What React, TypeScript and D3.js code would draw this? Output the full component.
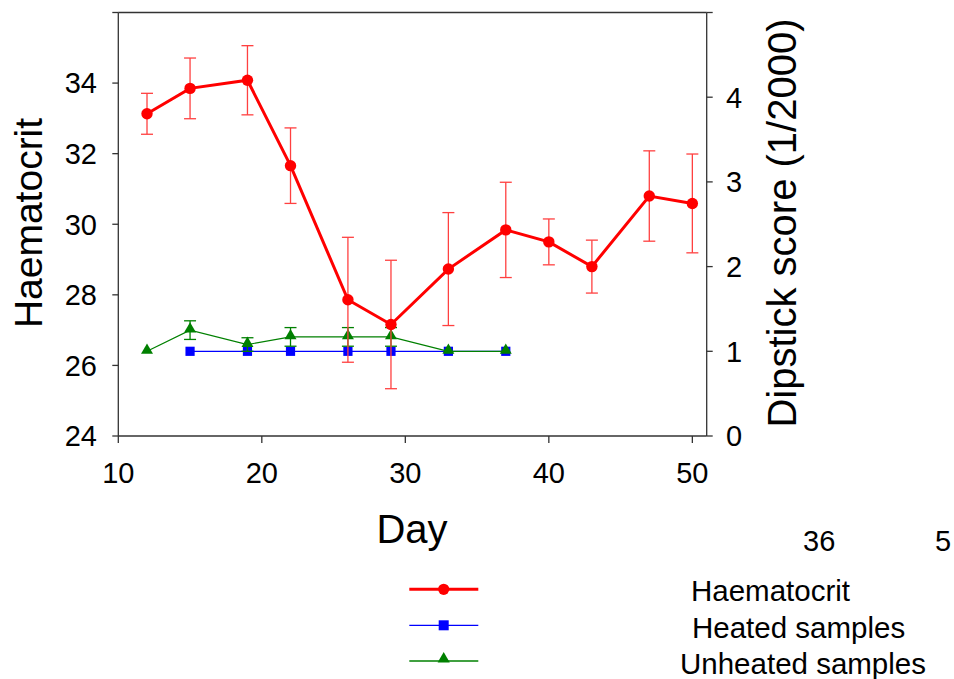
import React from "react";
import * as d3 from "d3";

const days = [12, 15, 19, 22, 26, 29, 33, 37, 40, 43, 47, 50];
const haematocrit = [33.13, 33.85, 34.08, 31.66, 27.86, 27.16, 28.73, 29.84, 29.5, 28.8, 30.8, 30.59];
const haematocritErr = [0.58, 0.86, 0.98, 1.07, 1.77, 1.82, 1.6, 1.35, 0.65, 0.75, 1.28, 1.4];

const heatedDays = [15, 19, 22, 26, 29, 33, 37];
const heated = [1, 1, 1, 1, 1, 1, 1];

const unheatedDays = [12, 15, 19, 22, 26, 29, 33, 37];
const unheated = [1, 1.25, 1.08, 1.17, 1.17, 1.17, 1, 1];
const unheatedErr = [0, 0.11, 0.08, 0.11, 0.11, 0.11, 0, 0];

const xTicks = [10, 20, 30, 40, 50];
const leftTicks = [24, 26, 28, 30, 32, 34];
const rightTicks = [0, 1, 2, 3, 4];
const legendLabels = ["Haematocrit", "Heated samples", "Unheated samples"];
const strayLabels = ["36", "5"];

const FONT = "'Liberation Sans', Arial, Helvetica, sans-serif";

export default function App() {
  const x = d3.scaleLinear().domain([10, 51]).range([118.3, 706.7]);
  const yL = d3.scaleLinear().domain([24, 36]).range([436, 12.5]);
  const yR = d3.scaleLinear().domain([0, 5]).range([436, 12.5]);

  const axisColor = "#333333";

  const redLine = d3
    .line<number>()
    .x((_, i) => x(days[i]))
    .y((d) => yL(d))(haematocrit) as string;
  const blueLine = d3
    .line<number>()
    .x((_, i) => x(heatedDays[i]))
    .y((d) => yR(d))(heated) as string;
  const greenLine = d3
    .line<number>()
    .x((_, i) => x(unheatedDays[i]))
    .y((d) => yR(d))(unheated) as string;

  const tri = d3.symbol().type(d3.symbolTriangle).size(62)() as string;
  const triLeg = d3.symbol().type(d3.symbolTriangle).size(64)() as string;

  const [x0, x1] = x.range();
  const [yb, yt] = yL.range();

  const legendY = [589.3, 625.3, 661];
  const legendTextY = [601, 637.7, 674.3];
  const legendTextX = [691, 692, 680];

  return (
    <div style={{ position: "absolute", left: 0, top: 0 }}>
      <svg width={954} height={679} style={{ display: "block", fontFamily: FONT }}>
        <rect width={954} height={679} fill="#fff" />
        {/* frame */}
        <line x1={x0} x2={x1} y1={yt} y2={yt} stroke={axisColor} strokeWidth={1.3} />
        <line x1={x0} x2={x1} y1={yb} y2={yb} stroke={axisColor} strokeWidth={1.3} />
        <line x1={x0} x2={x0} y1={yt} y2={yb} stroke={axisColor} strokeWidth={1.3} />
        <line x1={x1} x2={x1} y1={yt} y2={yb} stroke={axisColor} strokeWidth={1.3} />

        {/* x ticks */}
        {xTicks.map((t) => (
          <g key={"x" + t}>
            <line x1={x(t)} x2={x(t)} y1={yb} y2={yb + 7} stroke={axisColor} strokeWidth={1.3} />
            <text x={x(t)} y={483.3} textAnchor="middle" fontSize={29} fill="#000">
              {t}
            </text>
          </g>
        ))}
        {/* left ticks */}
        {[...leftTicks, 36].map((t) => (
          <line key={"lt" + t} x1={x0 - 6} x2={x0} y1={yL(t)} y2={yL(t)} stroke={axisColor} strokeWidth={1.3} />
        ))}
        {leftTicks.map((t) => (
          <text key={"l" + t} x={97} y={yL(t) + 10.4} textAnchor="end" fontSize={29} fill="#000">
            {t}
          </text>
        ))}
        {/* right ticks */}
        {[...rightTicks, 5].map((t) => (
          <line key={"rt" + t} x1={x1} x2={x1 + 6} y1={yR(t)} y2={yR(t)} stroke={axisColor} strokeWidth={1.3} />
        ))}
        {rightTicks.map((t) => (
          <text key={"r" + t} x={726} y={yR(t) + 10.4} textAnchor="start" fontSize={29} fill="#000">
            {t}
          </text>
        ))}

        {/* axis titles */}
        <text transform={`translate(42,223) rotate(-90)`} textAnchor="middle" fontSize={39} fill="#000">
          Haematocrit
        </text>
        <text x={412} y={543.3} textAnchor="middle" fontSize={40} fill="#000">
          Day
        </text>
        <text transform={`translate(796,223) rotate(-90)`} textAnchor="middle" fontSize={40} fill="#000">
          Dipstick score (1/2000)
        </text>

        {/* stray labels */}
        <text x={803} y={551} fontSize={29} fill="#000">
          {strayLabels[0]}
        </text>
        <text x={935} y={551} fontSize={29} fill="#000">
          {strayLabels[1]}
        </text>

        {/* heated samples */}
        <path d={blueLine} fill="none" stroke="#0000ff" strokeWidth={1.2} />
        {heated.map((v, i) => (
          <rect key={"b" + i} x={x(heatedDays[i]) - 4.6} y={yR(v) - 4.6} width={9.2} height={9.2} fill="#0000ff" />
        ))}

        {/* unheated samples */}
        <path d={greenLine} fill="none" stroke="#008000" strokeWidth={1.2} />
        {unheated.map((v, i) =>
          unheatedErr[i] > 0 ? (
            <g key={"ge" + i} stroke="#008000" strokeWidth={1.3}>
              <line x1={x(unheatedDays[i])} x2={x(unheatedDays[i])} y1={yR(v + unheatedErr[i])} y2={yR(v - unheatedErr[i])} />
              <line x1={x(unheatedDays[i]) - 6} x2={x(unheatedDays[i]) + 6} y1={yR(v + unheatedErr[i])} y2={yR(v + unheatedErr[i])} />
              <line x1={x(unheatedDays[i]) - 6} x2={x(unheatedDays[i]) + 6} y1={yR(v - unheatedErr[i])} y2={yR(v - unheatedErr[i])} />
            </g>
          ) : null
        )}
        {unheated.map((v, i) => (
          <path key={"g" + i} d={tri} transform={`translate(${x(unheatedDays[i])},${yR(v) - 1})`} fill="#008000" />
        ))}

        {/* haematocrit */}
        {haematocrit.map((v, i) => (
          <g key={"re" + i} stroke="#ff4040" strokeWidth={1.3}>
            <line x1={x(days[i])} x2={x(days[i])} y1={yL(v + haematocritErr[i])} y2={yL(v - haematocritErr[i])} />
            <line x1={x(days[i]) - 6} x2={x(days[i]) + 6} y1={yL(v + haematocritErr[i])} y2={yL(v + haematocritErr[i])} />
            <line x1={x(days[i]) - 6} x2={x(days[i]) + 6} y1={yL(v - haematocritErr[i])} y2={yL(v - haematocritErr[i])} />
          </g>
        ))}
        <path d={redLine} fill="none" stroke="#ff0000" strokeWidth={3} />
        {haematocrit.map((v, i) => (
          <circle key={"r" + i} cx={x(days[i])} cy={yL(v)} r={5.7} fill="#ff0000" />
        ))}

        {/* legend */}
        <line x1={409.3} x2={478.3} y1={legendY[0]} y2={legendY[0]} stroke="#ff0000" strokeWidth={3} />
        <circle cx={443.7} cy={legendY[0]} r={5.6} fill="#ff0000" />
        <line x1={409.3} x2={478.3} y1={legendY[1]} y2={legendY[1]} stroke="#0000ff" strokeWidth={1.3} />
        <rect x={443.7 - 5} y={legendY[1] - 5} width={10} height={10} fill="#0000ff" />
        <line x1={409.3} x2={478.3} y1={legendY[2]} y2={legendY[2]} stroke="#008000" strokeWidth={1.3} />
        <path d={triLeg} transform={`translate(443.7,${legendY[2] - 2})`} fill="#008000" />
        {legendLabels.map((l, i) => (
          <text key={l} x={legendTextX[i]} y={legendTextY[i]} fontSize={29.5} fill="#000">
            {l}
          </text>
        ))}
      </svg>
    </div>
  );
}
